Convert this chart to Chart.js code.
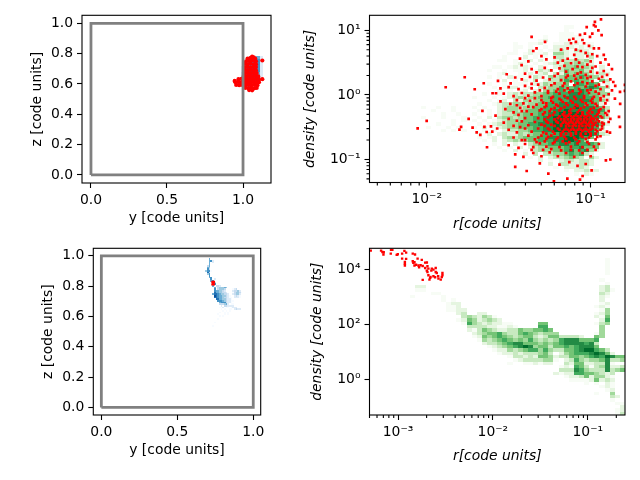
<!DOCTYPE html>
<html>
<head>
    <title>Particle projections and density profiles</title>
    <script src="https://cdn.jsdelivr.net/npm/chart.js"></script>
    <style>
        body { margin: 0; background: white; }
        canvas { position: absolute; }
    </style>
</head>
<body>
    <canvas id="boxTop"></canvas>
    <canvas id="profileTop"></canvas>
    <canvas id="boxBottom"></canvas>
    <canvas id="profileBottom"></canvas>
    <script>
        // periodic box outline
        const boxY = [0, 1, 1, 0, 0];
        const boxZ = [0, 0, 1, 1, 0];

        const linearTicksX = [0, 0.5, 1];
        const linearTicksY = [0, 0.2, 0.4, 0.6, 0.8, 1];
        const topProfileTicksX = [0.01, 0.1];
        const topProfileTicksY = [0.1, 1, 10];
        const bottomProfileTicksX = [0.001, 0.01, 0.1];
        const bottomProfileTicksY = [1, 100, 10000];

        const greens = ['#f7fcf5', '#e5f5e0', '#c7e9c0', '#a1d99b', '#74c476', '#41ab5d', '#238b45', '#006d2c', '#00441b'];
        const blues = ['#f7fbff', '#deebf7', '#c6dbef', '#9ecae1', '#6baed6', '#4292c6', '#2171b5', '#08519c', '#08306b'];

        // 2d histograms: [row from top, first column, shade per cell]
        const histBoxTop = [
            [12, 44, '2452'], [13, 43, '24562'], [14, 42, '156662'], [15, 42, '267762'], [16, 42, '267762'],
            [17, 42, '367752'], [18, 42, '467752'], [19, 41, '156762'], [20, 41, '56761'], [21, 43, '56']
        ];
        const histBoxBottom = [
            [6, 69, '5'], [7, 69, '562'], [8, 69, '5.2'], [9, 69, '5'], [10, 68, '35'], [11, 68, '54'], [12, 68, '63'],
            [13, 67, '4661'], [14, 68, '73'], [15, 68, '46'], [16, 69, '6'], [17, 69, '56'], [18, 70, '6.2'], [19, 70, '56'],
            [20, 71, '63'], [21, 71, '56'], [22, 71, '5.332'], [23, 72, '5.344454'], [24, 72, '6.34443'], [24, 83, '123'],
            [25, 72, '6554432'], [25, 83, '23342'], [26, 72, '75544332'], [26, 83, '134431'], [27, 71, '5776544332'], [27, 83, '23442'],
            [28, 72, '8765544321'], [28, 84, '2321'], [29, 72, '77655433211'], [29, 84, '2221'], [30, 73, '7755443221'],
            [31, 74, '6665432211'], [32, 75, '56663221'], [33, 75, '333452.11'], [34, 76, '2.332222'],
            [35, 75, '1.2.11.1222'], [36, 76, '1.1..11.2322'], [37, 77, '1.1.1'], [38, 75, '1..1.1'], [39, 74, '1...1.1'],
            [40, 75, '1.1'], [42, 74, '1'], [44, 72, '1'], [46, 71, '1']
        ];
        const histProfileTop = [
            [3, 38, '11'], [4, 38, '1'], [5, 37, '111'], [6, 34, '1..11111'], [7, 33, '12..11111'],
            [8, 28, '1..112..11212111'], [9, 28, '11.1..1.22221212'], [10, 28, '1..2.1.123213221'],
            [11, 27, '11.12112.44212232'], [12, 26, '1...2.1.1.33212213.1'], [13, 25, '11.1.12.21.23334342'],
            [14, 28, '121.1.1232434432.1'], [15, 24, '11.12121.21.23445443.2'], [16, 23, '1..1.112.1323.3544533.21'],
            [17, 25, '12..1.2123.32545543132'], [18, 23, '1.1.2111.321434555654421'], [19, 26, '2.1.213.2334656554.53'],
            [20, 23, '1..1.111.2243445.66565.2'], [21, 24, '1.122.12.33446556567643'], [22, 25, '1.1.12.214456576765441'],
            [23, 20, '..1..1.232334455666777655441'], [24, 20, '1...1.123434455666777766532'],
            [25, 20, '...1.12.3243445566677776542'], [26, 20, '.1..1233443445566777776652'],
            [27, 10, '1..1..1'], [27, 20, '1.1..2344344556667778777653'], [28, 12, '1...1'], [28, 20, '.1.1.2344345566677877777763'],
            [29, 14, '1..1'], [29, 20, '1..1.2334455566778888877752'], [30, 10, '1...1...1'], [30, 20, '.1.2.3443455667788888887753'],
            [31, 16, '1.1'], [31, 20, '1.1.1234445566778888888762'], [32, 13, '1..1'], [32, 20, '.1.123344556677788888887752'],
            [33, 11, '1...1.1'], [33, 20, '1.2.1234455566778888888763'], [34, 14, '1.1.1'], [34, 20, '..1.1.23344566778888887752'],
            [35, 20, '.1.2.2322434556667778887632'], [36, 21, '1.12.3434555667778887651'],
            [37, 22, '1.2.234345566677887641'], [38, 24, '1.2.21.345566776766652'], [39, 25, '1.1.2.234455566675552'],
            [40, 26, '1.2.1.3444556756742'], [41, 30, '2.3.3344565632'], [42, 31, '1.2.2334543.42'],
            [43, 33, '2.1.2332332'], [44, 35, '2.3322332'], [45, 36, '1.22232'], [46, 38, '1.22322'], [47, 40, '1.21'], [48, 41, '1']
        ];
        const histProfileBottom = [
            [3, 46, '1'], [4, 46, '1'], [5, 46, '1'], [6, 46, '1'], [7, 46, '1'], [9, 45, '1'], [10, 46, '1'],
            [11, 9, '22'], [11, 45, '23'], [12, 9, '11'], [12, 45, '231'], [13, 12, '11'], [13, 45, '32'],
            [14, 8, '1'], [14, 14, '1'], [14, 45, '21'], [15, 14, '1.1'], [15, 45, '2'], [16, 15, '122'], [16, 45, '12'],
            [17, 15, '112'], [17, 44, '121'], [18, 15, '1122'], [18, 45, '14'], [19, 17, '23..22'], [19, 44, '124'],
            [20, 18, '3432431'], [20, 44, '215'], [21, 17, '125423432'], [21, 45, '26'],
            [22, 18, '1643232211'], [22, 33, '55'], [22, 44, '134'], [23, 19, '3333221121'], [23, 33, '66'], [23, 45, '4'],
            [24, 19, '21354322335445565'], [24, 45, '4'], [25, 20, '23455643356543444'], [25, 44, '14'],
            [26, 20, '1254565434553235533332'], [26, 44, '54'], [27, 21, '143456545464343467775556'],
            [28, 22, '23345677555454567777673'], [29, 23, '1234567874553556567775'],
            [30, 24, '12243456646433556788653'], [31, 25, '12232333453.24566678752'],
            [32, 27, '13323255423355456768755'], [33, 28, '123333441.236434457334'],
            [34, 27, '1..112122..3255223371'], [35, 37, '1216531347223'],
            [36, 37, '3337643337345'], [37, 36, '212266554323'], [38, 38, '1223524421'],
            [39, 39, '111125232'], [40, 42, '1.1.21'], [41, 45, '121'], [42, 46, '12'],
            [43, 44, '1..4'], [44, 47, '32'], [45, 47, '1'], [46, 48, '11'], [47, 49, '2'], [48, 48, '12'], [49, 48, '13']
        ];

        // red particles in the top box panel
        const selectedTopY = [
            1.06, 1.127, 1.127, 0.945,
            1.03, 1.05, 1.07, 1.08,
            1.02, 1.04, 1.06, 1.08, 1.085,
            1.012, 1.03, 1.05, 1.07, 1.08, 1.085,
            1.012, 1.03, 1.05, 1.07, 1.08, 1.085,
            1.01, 1.03, 1.05, 1.07, 1.08, 1.085,
            1.01, 1.03, 1.05, 1.07, 1.08, 1.09,
            1.005, 1.025, 1.045, 1.065, 1.085, 1.1,
            0.97, 0.99, 1.01, 1.03, 1.05, 1.07, 1.09, 1.105,
            0.95, 0.97, 0.99, 1.01, 1.03, 1.05, 1.07, 1.09, 1.105,
            0.955, 0.975, 0.995, 1.015, 1.035, 1.055, 1.075, 1.095,
            1.015, 1.035, 1.055, 1.075, 1.09,
            1.04, 1.06
        ];
        const selectedTopZ = [
            0.78, 0.755, 0.632, 0.62,
            0.768, 0.772, 0.775, 0.768,
            0.75, 0.752, 0.755, 0.752, 0.75,
            0.732, 0.73, 0.734, 0.73, 0.732, 0.73,
            0.71, 0.712, 0.71, 0.712, 0.71, 0.712,
            0.692, 0.69, 0.692, 0.69, 0.692, 0.69,
            0.671, 0.672, 0.67, 0.672, 0.67, 0.672,
            0.652, 0.65, 0.652, 0.65, 0.652, 0.65,
            0.632, 0.634, 0.632, 0.63, 0.632, 0.63, 0.632, 0.63,
            0.612, 0.614, 0.612, 0.61, 0.612, 0.61, 0.612, 0.61, 0.612,
            0.594, 0.592, 0.594, 0.592, 0.594, 0.592, 0.594, 0.592,
            0.574, 0.572, 0.574, 0.572, 0.574,
            0.56, 0.558
        ];
        // red particles in the bottom box panel
        const selectedBottomY = [0.731, 0.741, 0.731, 0.741, 0.736];
        const selectedBottomZ = [0.828, 0.828, 0.812, 0.812, 0.82];

        // red particles, [log10 r, log10 density]
        const profileTopPoints = [
            [-2.055,-.517],[-2,-.403],[-1.884,.119],[-1.768,.274],[-1.8,-.537],[-1.79,-.496],[-1.744,-.372],[-1.72,-.506],
            [-1.707,.088],[-1.695,-.579],[-1.652,.181],[-1.66,-.248],[-1.673,-.62],[-1.632,-.811],[-1.648,-.496],[-1.608,-.486],
            [-1.598,.026],[-1.577,.026],[-1.565,.217],[-1.634,-.574],[-1.6,-.57],[-1.57,-.52],[-1.512,.32],[-1.488,.18],
            [-1.431,.563],[-1.421,.46],[-1.36,.9],[-1.278,.82],[-1.35,.68],[-1.33,.72],
            [-.937,1.17],[-.974,1.13],[-.98,1.08],[-.97,1.06],[-1.024,1.05],[-1.035,.95],[-1.065,.93],[-.953,1],[-.933,.925],
            [-1.004,.9],[-.99,.95],[-1.106,.87],[-1.13,.85],[-1.12,.8],[-1.09,.82],[-1.05,.85],[-1.04,.8],[-1.01,.76],[-.98,.72],
            [-.95,.72],[-1.18,.7],[-1.14,.72],[-1.09,.7],[-1.06,.68],[-1.03,.65],[-.99,.63],[-.96,.6],[-.92,.62],
            [-1.38,.52],[-1.3,.6],[-1.27,.55],[-1.22,.58],[-1.2,.5],[-1.17,.53],[-1.14,.56],[-1.12,.49],[-1.09,.55],[-1.07,.5],
            [-1.05,.43],[-1.02,.47],[-1,.52],[-.97,.44],[-.94,.5],[-.91,.55],[-.89,.47],[-.87,.4],[-1.28,.42],[-1.24,.38],
            [-1.19,.41],[-1.15,.36],[-1.11,.4],[-1.08,.33],[-1.1,.3],[-1.06,.35],[-1.03,.31],[-1,.36],[-.96,.34],[-.92,.37],
            [-.9,.31],[-1.33,.35],[-1.36,.4],[-1.4,.33],
            [-1.46,.27],[-1.42,.24],[-1.37,.28],[-1.33,.22],[-1.29,.27],[-1.25,.24],[-1.22,.29],[-1.18,.23],[-1.15,.27],[-1.12,.21],
            [-1.09,.25],[-1.05,.2],[-1.02,.26],[-.99,.21],[-.95,.25],[-.92,.2],[-.88,.24],[-.862,.2],[-.85,.14],[-.791,.155],
            [-1.55,.1],[-1.5,.12],[-1.44,.09],[-1.4,.14],[-1.36,.1],[-1.32,.16],[-1.28,.11],[-1.24,.15],[-1.2,.09],[-1.17,.14],
            [-1.14,.1],[-1.1,.15],[-1.07,.09],[-1.03,.13],[-1,.08],[-.97,.14],[-.94,.09],[-.9,.13],[-.87,.07],
            [-1.53,.02],[-1.47,-.02],[-1.42,.03],[-1.38,-.01],[-1.34,.04],[-1.3,-.02],[-1.26,.03],[-1.23,-.03],[-1.19,.02],[-1.16,-.02],
            [-1.13,.04],[-1.1,-.03],[-1.07,.02],[-1.04,-.02],[-1.01,.03],[-.98,-.03],[-.95,.02],[-.92,-.02],[-.89,.01],[-.791,.062],
            [-.821,.047],[-.852,-.057],[-.82,-.14],[-.9,-.08],
            [-1.55,-.1],[-1.49,-.14],[-1.45,-.08],[-1.41,-.13],[-1.37,-.09],[-1.33,-.15],[-1.3,-.08],[-1.27,-.13],[-1.24,-.09],[-1.21,-.15],
            [-1.18,-.08],[-1.15,-.13],[-1.12,-.09],[-1.09,-.15],[-1.06,-.08],[-1.03,-.13],[-1,-.09],[-.97,-.14],[-.94,-.08],[-.91,-.13],
            [-1.52,-.22],[-1.47,-.27],[-1.43,-.2],[-1.39,-.25],[-1.35,-.19],[-1.31,-.24],[-1.28,-.19],[-1.25,-.25],[-1.22,-.2],[-1.19,-.24],
            [-1.16,-.19],[-1.13,-.25],[-1.1,-.2],[-1.07,-.24],[-1.04,-.19],[-1.01,-.25],[-.98,-.2],[-.95,-.24],[-.92,-.19],[-.89,-.25],
            [-1.58,-.32],[-1.5,-.37],[-1.44,-.31],[-1.4,-.36],[-1.36,-.3],[-1.32,-.36],[-1.29,-.3],[-1.26,-.35],[-1.23,-.31],[-1.2,-.36],
            [-1.17,-.3],[-1.15,-.34],[-1.13,-.3],[-1.11,-.35],[-1.09,-.31],[-1.07,-.36],[-1.05,-.3],[-1.03,-.35],[-1.01,-.31],[-.99,-.36],
            [-.96,-.3],[-.93,-.35],[-.9,-.31],[-.827,-.341],[-.88,-.37],
            [-1.53,-.43],[-1.47,-.48],[-1.42,-.41],[-1.38,-.47],[-1.34,-.42],[-1.3,-.46],[-1.27,-.41],[-1.24,-.46],[-1.21,-.41],[-1.18,-.46],
            [-1.16,-.41],[-1.14,-.45],[-1.12,-.41],[-1.1,-.46],[-1.08,-.41],[-1.06,-.45],[-1.04,-.41],[-1.02,-.46],[-1,-.41],[-.98,-.46],
            [-.95,-.41],[-.92,-.45],[-.89,-.42],[-.821,-.496],
            [-1.5,-.54],[-1.45,-.58],[-1.4,-.52],[-1.36,-.57],[-1.32,-.52],[-1.29,-.58],[-1.26,-.52],[-1.23,-.57],[-1.2,-.52],[-1.17,-.57],
            [-1.15,-.52],[-1.13,-.56],[-1.11,-.52],[-1.09,-.57],[-1.07,-.52],[-1.05,-.56],[-1.03,-.52],[-1.01,-.57],[-.99,-.52],[-.96,-.56],
            [-.93,-.52],[-.9,-.57],[-.882,-.584],
            [-1.47,-.66],[-1.42,-.7],[-1.38,-.63],[-1.34,-.69],[-1.3,-.63],[-1.27,-.68],[-1.24,-.63],[-1.21,-.69],[-1.18,-.63],[-1.15,-.68],
            [-1.12,-.63],[-1.09,-.69],[-1.06,-.63],[-1.03,-.68],[-1,-.63],[-.97,-.69],[-.94,-.64],
            [-1.5,-.78],[-1.44,-.82],[-1.4,-.76],[-1.35,-.81],[-1.31,-.75],[-1.27,-.8],[-1.23,-.75],[-1.19,-.81],[-1.15,-.75],[-1.12,-.8],
            [-1.08,-.75],[-1.05,-.81],[-1.01,-.76],[-.98,-.8],[-.95,-.76],
            [-1.46,-.92],[-1.41,-.96],[-1.35,-.9],[-1.3,-.95],[-1.25,-.89],[-1.2,-.95],[-1.15,-.9],[-1.1,-.96],[-1.05,-.9],[-1,-.95],
            [-.907,-1.013],[-.88,-1],[-1.46,-1.116],[-1.39,-1.178],[-1.31,-1.06],[-1.258,-1.22],[-1.19,-1.08],[-1.13,-1.04],[-1.08,-1.1],
            [-1.03,-1.07],[-.994,-1.168],[-1.049,-1.256],[-1.065,-1.313],[-1.142,-1.297],[-1.224,-1.339]
        ];
        // the crowded core of the same scatter
        const profileTopCore = [
            [-1.26,.06],[-1.21,.05],[-1.16,.07],[-1.11,.06],[-1.06,.05],[-1.02,.07],[-.97,.05],[-1.24,-.05],[-1.19,-.06],[-1.14,-.05],
            [-1.09,-.06],[-1.04,-.05],[-.99,-.06],[-.94,-.05],[-1.29,-.12],[-1.23,-.12],[-1.17,-.11],[-1.11,-.12],[-1.05,-.11],[-.99,-.12],
            [-1.27,-.17],[-1.2,-.17],[-1.14,-.16],[-1.08,-.17],[-1.02,-.16],[-.96,-.17],[-1.3,-.22],[-1.24,-.22],[-1.18,-.21],[-1.12,-.22],
            [-1.06,-.21],[-1,-.22],[-.94,-.22],[-1.28,-.27],[-1.22,-.27],[-1.16,-.27],[-1.12,-.28],[-1.08,-.27],[-1.05,-.27],[-1.02,-.28],
            [-.99,-.27],[-.95,-.27],[-.91,-.28],[-1.25,-.32],[-1.19,-.33],[-1.16,-.32],[-1.14,-.32],[-1.12,-.33],[-1.1,-.33],[-1.08,-.33],
            [-1.06,-.33],[-1.04,-.33],[-1.02,-.33],[-1,-.33],[-.97,-.33],[-.94,-.33],[-1.28,-.38],[-1.22,-.38],[-1.18,-.38],[-1.16,-.37],
            [-1.14,-.38],[-1.12,-.38],[-1.1,-.38],[-1.08,-.38],[-1.06,-.38],[-1.04,-.38],[-1.02,-.38],[-1,-.38],[-.98,-.38],[-.96,-.38],
            [-1.26,-.43],[-1.2,-.43],[-1.17,-.43],[-1.15,-.43],[-1.13,-.43],[-1.11,-.43],[-1.09,-.43],[-1.07,-.43],[-1.05,-.43],[-1.03,-.43],
            [-1.01,-.43],[-.99,-.43],[-.97,-.43],[-.93,-.43],[-1.28,-.48],[-1.22,-.48],[-1.18,-.48],[-1.15,-.48],[-1.13,-.48],[-1.11,-.48],
            [-1.09,-.48],[-1.07,-.48],[-1.05,-.48],[-1.03,-.48],[-1.01,-.48],[-.99,-.48],[-.96,-.48],[-.93,-.48],[-1.25,-.54],[-1.19,-.54],
            [-1.16,-.54],[-1.14,-.54],[-1.12,-.54],[-1.1,-.54],[-1.08,-.54],[-1.06,-.54],[-1.04,-.54],[-1.02,-.54],[-1,-.54],[-.97,-.54],
            [-.94,-.54],[-1.27,-.6],[-1.22,-.6],[-1.18,-.6],[-1.15,-.6],[-1.12,-.6],[-1.09,-.6],[-1.06,-.6],[-1.03,-.6],[-1,-.6],
            [-.97,-.6],[-1.32,-.66],[-1.26,-.65],[-1.2,-.66],[-1.16,-.65],[-1.1,-.66],[-1.05,-.65],[-1.01,-.66],[-.96,-.65],[-1.4,-.7],
            [-1.33,-.73],[-1.28,-.72],[-1.22,-.73],[-1.17,-.72],[-1.13,-.73],[-1.07,-.72],[-1.02,-.73],[-1.36,-.85],[-1.29,-.85],[-1.24,-.84],
            [-1.18,-.86],[-1.12,-.85],[-1.07,-.86],[-1.02,-.85],[-.97,-.85],[-1.45,-.4],[-1.43,-.5],[-1.42,-.25],[-1.38,-.18],[-1.45,-.16],
            [-1.34,-.05],[-1.4,-.05],[-1.31,.07],[-1.36,.17],[-1.22,.18],[-1.16,.18],[-1.08,.18],[-1.02,.18],[-.95,.16],[-1.2,.33],
            [-1.14,.3],[-1.06,.27],[-1,.28],[-.93,.28],[-1.16,.45],[-1.08,.44],[-.99,.42],[-1.1,.62],[-1.02,.6]
        ];
        const profileBottomPoints = [
            [-3.288,4.695],[-3.179,4.695],[-3.165,4.645],[-3.151,4.634],[-3.154,4.55],[-3.074,4.72],[-3.06,4.72],[-3.077,4.585],
            [-3.014,4.537],[-3.003,4.561],[-2.957,4.585],[-2.933,4.685],[-2.915,4.622],[-2.845,4.585],[-2.821,4.55],[-2.794,4.403],
            [-2.75,4.355],[-2.714,4.255],[-2.696,4.258],[-2.957,4.403],[-2.915,4.391],[-2.928,4.28],[-2.928,4.21],[-2.928,4.15],
            [-2.845,4.306],[-2.839,4.245],[-2.827,4.27],[-2.81,4.18],[-2.785,4.149],[-2.778,4.087],[-2.762,4.16],[-2.74,4.135],
            [-2.827,4.149],[-2.714,4.06],[-2.69,4.123],[-2.68,4.038],[-2.697,3.965],[-2.69,3.916],[-2.644,4.038],[-2.627,4],
            [-2.603,4.062],[-2.649,3.965],[-2.603,3.916],[-2.592,3.88],[-2.68,3.796],[-2.658,3.733],[-2.669,3.636],[-2.627,3.758],
            [-2.609,3.722],[-2.577,3.758],[-2.574,3.673],[-2.55,3.636],[-2.532,3.796],[-2.532,3.88],[-2.539,3.733],[-2.74,3.625],
            [-2.662,3.7]
        ];

        function minorTicks(min, max) {
            const values = [];
            const first = Math.floor(Math.log10(min));
            const last = Math.ceil(Math.log10(max));
            for (let d = first; d < last; d++) {
                for (let m = 2; m < 10; m++) {
                    const v = m * Math.pow(10, d);
                    if (v >= min && v <= max) values.push(v);
                }
            }
            return values;
        }

        function powerLabel(value) {
            const sup = { '-': '\u207b', '0': '\u2070', '1': '\u00b9', '2': '\u00b2', '3': '\u00b3', '4': '\u2074' };
            const exp = String(Math.round(Math.log10(value)));
            return '10' + exp.split('').map(c => sup[c]).join('');
        }

        function axisOptions(spec, position, size, title, italic) {
            const isLog = spec.log;
            const values = spec.ticks.map(v => ({ value: v, major: true }));
            if (spec.minor) {
                minorTicks(spec.min, spec.max).forEach(v => values.push({ value: v, major: false }));
            }
            return {
                type: isLog ? 'logarithmic' : 'linear',
                position: position,
                min: spec.min,
                max: spec.max,
                border: { display: false },
                grid: {
                    drawOnChartArea: false,
                    tickLength: 5,
                    tickWidth: 1.1,
                    tickColor: c => (c.tick && c.tick.major) ? 'black' : 'rgba(0,0,0,0)'
                },
                ticks: {
                    autoSkip: false,
                    maxRotation: 0,
                    padding: 4,
                    color: 'black',
                    font: { family: 'DejaVu Sans', size: 13.9 },
                    callback: function (value, index, ticks) {
                        if (!ticks[index].major) return '';
                        return isLog ? powerLabel(value) : value.toFixed(1);
                    }
                },
                title: {
                    display: true,
                    text: title,
                    color: 'black',
                    padding: 0,
                    font: { family: 'DejaVu Sans', size: 13.9, style: italic ? 'italic' : 'normal', lineHeight: 1.2 }
                },
                afterBuildTicks: scale => { scale.ticks = values.slice(); },
                afterFit: scale => {
                    if (position === 'left') scale.width = size;
                    else scale.height = size;
                }
            };
        }

        // histogram cells, frame and small log ticks
        function panelPlugin(hist, palette, xSpec, ySpec, bins) {
            const edge = (spec, t) => spec.log
                ? spec.min * Math.pow(spec.max / spec.min, t)
                : spec.min + (spec.max - spec.min) * t;
            return {
                id: 'panel',
                beforeDatasetsDraw(chart) {
                    const ctx = chart.ctx;
                    const xs = chart.scales.x;
                    const ys = chart.scales.y;
                    hist.forEach(([row, col, shades]) => {
                        const y0 = Math.round(ys.getPixelForValue(edge(ySpec, 1 - row / bins)));
                        const y1 = Math.round(ys.getPixelForValue(edge(ySpec, 1 - (row + 1) / bins)));
                        shades.split('').forEach((s, i) => {
                            if (s === '.' || col + i >= bins) return;
                            const x0 = Math.round(xs.getPixelForValue(edge(xSpec, (col + i) / bins)));
                            const x1 = Math.round(xs.getPixelForValue(edge(xSpec, (col + i + 1) / bins)));
                            ctx.fillStyle = palette[Number(s) - 1];
                            ctx.fillRect(x0, y0, x1 - x0, y1 - y0);
                        });
                    });
                },
                afterDraw(chart) {
                    const ctx = chart.ctx;
                    const a = chart.chartArea;
                    ctx.save();
                    ctx.strokeStyle = 'black';
                    ctx.lineWidth = 1.1;
                    ctx.strokeRect(a.left, a.top, a.right - a.left, a.bottom - a.top);
                    ctx.beginPath();
                    chart.scales.x.ticks.filter(t => !t.major).forEach(t => {
                        const p = chart.scales.x.getPixelForValue(t.value);
                        ctx.moveTo(p, a.bottom);
                        ctx.lineTo(p, a.bottom + 3);
                    });
                    chart.scales.y.ticks.filter(t => !t.major).forEach(t => {
                        const p = chart.scales.y.getPixelForValue(t.value);
                        ctx.moveTo(a.left, p);
                        ctx.lineTo(a.left - 3, p);
                    });
                    ctx.stroke();
                    ctx.restore();
                }
            };
        }

        function makePanel(id, frame, layout, xSpec, ySpec, xTitle, yTitle, italic, hist, palette, bins, datasets) {
            const canvas = document.getElementById(id);
            canvas.width = frame.w;
            canvas.height = frame.h;
            canvas.style.left = frame.x + 'px';
            canvas.style.top = frame.y + 'px';
            const lineMid = 13.9 * 1.2 / 2;
            const leftPad = layout.yTitleX - lineMid - frame.x;
            const bottomEdge = layout.xTitleY + lineMid;
            new Chart(canvas.getContext('2d'), {
                type: 'scatter',
                data: { datasets: datasets },
                options: {
                    responsive: false,
                    animation: false,
                    devicePixelRatio: 1,
                    layout: {
                        padding: {
                            left: leftPad,
                            top: layout.top - frame.y,
                            right: frame.x + frame.w - layout.right,
                            bottom: frame.y + frame.h - bottomEdge
                        }
                    },
                    plugins: { legend: { display: false }, tooltip: { enabled: false } },
                    scales: {
                        x: axisOptions(xSpec, 'bottom', bottomEdge - layout.bottom, xTitle, italic),
                        y: axisOptions(ySpec, 'left', layout.left - frame.x - leftPad, yTitle, italic)
                    }
                },
                plugins: [panelPlugin(hist, palette, xSpec, ySpec, bins)]
            });
        }

        function boxOutline() {
            return {
                data: boxY.map((v, i) => ({ x: v, y: boxZ[i] })),
                showLine: true,
                borderColor: 'gray',
                borderWidth: 2.8,
                borderJoinStyle: 'miter',
                pointRadius: 0,
                order: 0
            };
        }

        function redPoints(data, radius, style) {
            return {
                data: data,
                showLine: false,
                pointStyle: style,
                pointRadius: radius,
                pointBorderWidth: 0,
                pointBackgroundColor: 'red',
                order: 1
            };
        }

        const fromLog = points => points.map(p => ({ x: Math.pow(10, p[0]), y: Math.pow(10, p[1]) }));
        const paired = (a, b) => a.map((v, i) => ({ x: v, y: b[i] }));

        makePanel('boxTop', { x: 0, y: 0, w: 300, h: 240 },
            { left: 82, top: 15.3, right: 271, bottom: 183, yTitleX: 37, xTitleY: 218 },
            { min: -0.059, max: 1.184, ticks: linearTicksX },
            { min: -0.053, max: 1.053, ticks: linearTicksY },
            'y [code units]', 'z [code units]', false, histBoxTop, blues, 50,
            [boxOutline(), redPoints(paired(selectedTopY, selectedTopZ), 2.1, 'circle')]);

        makePanel('profileTop', { x: 300, y: 0, w: 340, h: 240 },
            { left: 369.5, top: 15.3, right: 625, bottom: 182.5, yTitleX: 310, xTitleY: 224 },
            { log: true, min: 0.00448, max: 0.162, ticks: topProfileTicksX, minor: true },
            { log: true, min: 0.044, max: 17.1, ticks: topProfileTicksY, minor: true },
            'r[code units]', 'density [code units]', true, histProfileTop, greens, 50,
            [redPoints(fromLog(profileTopPoints.concat(profileTopCore)), 1.9, 'rect')]);

        makePanel('boxBottom', { x: 0, y: 220, w: 300, h: 260 },
            { left: 93.3, top: 248.3, right: 260.7, bottom: 415, yTitleX: 48, xTitleY: 450.7 },
            { min: -0.053, max: 1.049, ticks: linearTicksX },
            { min: -0.05, max: 1.05, ticks: linearTicksY },
            'y [code units]', 'z [code units]', false, histBoxBottom, blues, 100,
            [boxOutline(), redPoints(paired(selectedBottomY, selectedBottomZ), 1.6, 'rect')]);

        makePanel('profileBottom', { x: 300, y: 220, w: 340, h: 260 },
            { left: 369.5, top: 248.3, right: 625, bottom: 415, yTitleX: 317, xTitleY: 456.3 },
            { log: true, min: 0.0005, max: 0.247, ticks: bottomProfileTicksX, minor: true },
            { log: true, min: 0.05, max: 60000, ticks: bottomProfileTicksY },
            'r[code units]', 'density [code units]', true, histProfileBottom, greens, 50,
            [redPoints(fromLog(profileBottomPoints), 1.7, 'rect')]);
    </script>
</body>
</html>
